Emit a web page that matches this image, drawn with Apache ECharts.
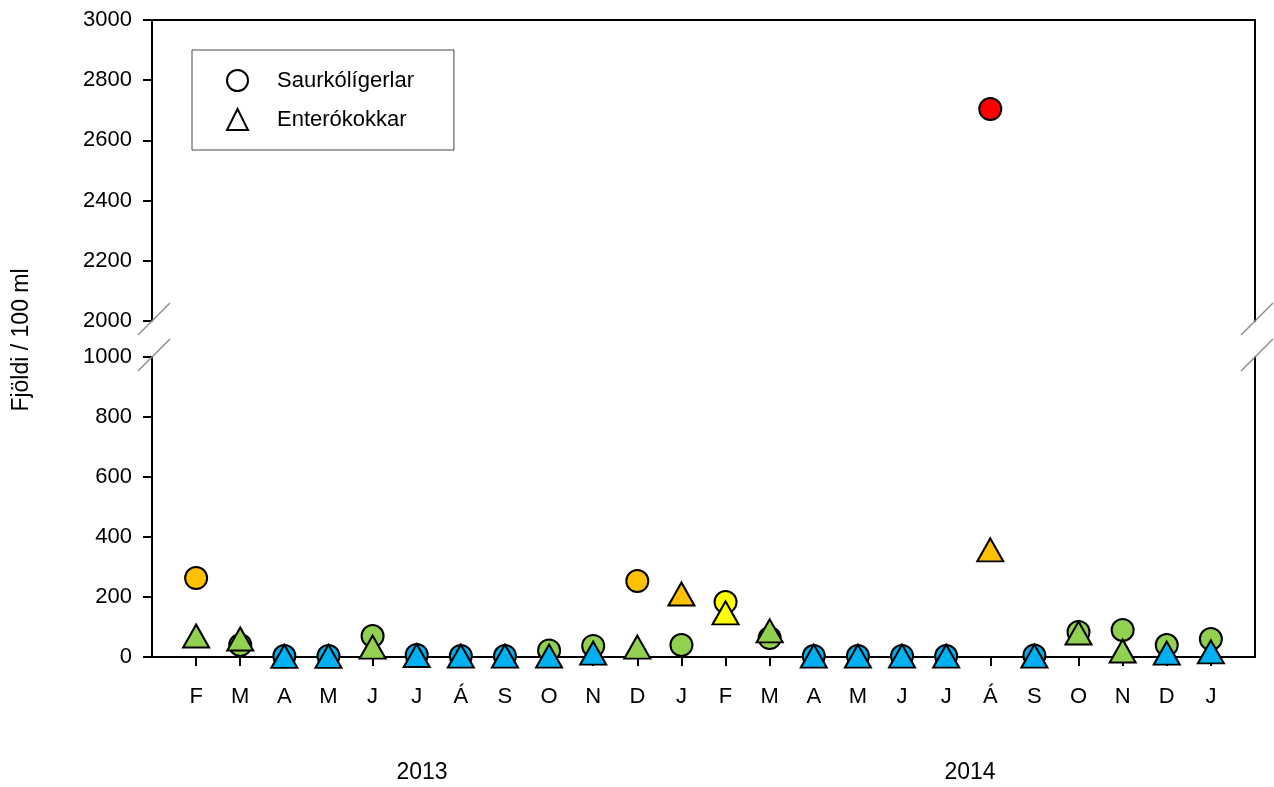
<!DOCTYPE html>
<html>
<head>
<meta charset="utf-8">
<script src="https://cdn.jsdelivr.net/npm/echarts@6/dist/echarts.min.js"></script>
<style>
  html, body { margin: 0; padding: 0; background: #fff; }
  #main { width: 1274px; height: 787px; }
</style>
</head>
<body>
<div id="main"></div>
<script>
// mánuðir feb 2013 - jan 2015
var months = ['F', 'M', 'A', 'M', 'J', 'J', 'Á', 'S', 'O', 'N', 'D', 'J', 'F', 'M', 'A', 'M', 'J', 'J', 'Á', 'S', 'O', 'N', 'D', 'J']
var years = ['2013', '2014']
var upperTicks = [2000, 3000, 200]
var lowerTicks = [0, 1000, 200]

// Saurkólígerlar (hringir)
var ecoliValues = [263, 40, 3, 3, 70, 7, 3, 3, 22, 37, 253, 40, 183, 63, 3, 3, 3, 3, 2704, 5, 83, 90, 40, 60]
var ecoliClass = ['o', 'g', 'b', 'b', 'g', 'b', 'b', 'b', 'g', 'g', 'o', 'g', 'y', 'g', 'b', 'b', 'b', 'b', 'r', 'b', 'g', 'g', 'g', 'g']
// Enterókokkar (þríhyrningar)
var enteroValues = [70, 60, 2, 2, 33, 5, 3, 3, 3, 13, 33, 210, 147, 87, 3, 3, 3, 3, 357, 3, 80, 20, 13, 17]
var enteroClass = ['g', 'g', 'b', 'b', 'g', 'b', 'b', 'b', 'b', 'b', 'g', 'o', 'y', 'g', 'b', 'b', 'b', 'b', 'o', 'b', 'g', 'g', 'b', 'b']

var palette = { b: '#00B0F0', g: '#92D050', y: '#FFFF00', o: '#FFC000', r: '#FF0000' }
var FONT = 'Liberation Sans'

// grid stærðir
var L = 152, R = 19, W = 1274 - L - R
var upTop = 20, upH = 301
var lowTop = 357, lowH = 300

var chart = echarts.init(document.getElementById('main'))

var cats = [''].concat(months, [''])

function pts (values, cls, test) {
  var out = []
  values.forEach(function (v, i) {
    if (test(v)) {
      out.push({ value: [i + 1, v], itemStyle: { color: palette[cls[i]] } })
    }
  })
  return out
}
var isLow = function (v) { return v <= 1000 }
var isHigh = function (v) { return v >= 2000 }

var lineStyle = { color: '#000', width: 2 }
var labelStyle = { color: '#000', fontFamily: FONT, fontSize: 22 }

function valueAxis (gi, t) {
  return {
    type: 'value', gridIndex: gi, min: t[0], max: t[1], interval: t[2],
    axisLine: { show: true, onZero: false, lineStyle: lineStyle },
    axisTick: { show: true, inside: false, length: 9, lineStyle: lineStyle },
    axisLabel: Object.assign({ margin: 20, formatter: function (v) { return String(v) } }, labelStyle),
    splitLine: { show: false }
  }
}
function borderAxis (gi, t) {
  return {
    type: 'value', gridIndex: gi, min: t[0], max: t[1], position: 'right',
    axisLine: { show: true, onZero: false, lineStyle: lineStyle },
    axisTick: { show: false }, axisLabel: { show: false }, splitLine: { show: false }
  }
}

var markerStyle = { borderColor: '#000', borderWidth: 2, opacity: 1 }

// brotlínur á ásnum
function breakLine (x, y) {
  return {
    type: 'line', z: 100,
    shape: { x1: x - 14, y1: y + 14, x2: x + 18, y2: y - 18 },
    style: { stroke: '#8c8c8c', lineWidth: 1.5 }
  }
}

var legendIcon = { color: '#fff', borderColor: '#000', borderWidth: 2 }

var option = {
  backgroundColor: '#fff',
  animation: false,
  grid: [
    { left: L, top: upTop, width: W, height: upH },
    { left: L, top: lowTop, width: W, height: lowH }
  ],
  xAxis: [
    {
      type: 'category', gridIndex: 0, data: cats, boundaryGap: false, position: 'top',
      axisLine: { show: true, onZero: false, lineStyle: lineStyle },
      axisTick: { show: false }, axisLabel: { show: false }, splitLine: { show: false }
    },
    {
      type: 'category', gridIndex: 1, data: cats, boundaryGap: false,
      axisLine: { show: true, onZero: false, lineStyle: lineStyle },
      axisTick: {
        show: true, length: 9, lineStyle: lineStyle,
        interval: function (i) { return i > 0 && i < cats.length - 1 }
      },
      axisLabel: Object.assign({ interval: 0, margin: 29 }, labelStyle),
      splitLine: { show: false }
    }
  ],
  yAxis: [
    valueAxis(0, upperTicks),
    valueAxis(1, lowerTicks),
    borderAxis(0, upperTicks),
    borderAxis(1, lowerTicks)
  ],
  legend: {
    left: 192, top: 50, orient: 'vertical',
    padding: [19, 40, 19, 34],
    itemWidth: 21, itemHeight: 21, itemGap: 16,
    borderColor: '#444', borderWidth: 1, backgroundColor: '#fff',
    textStyle: { color: '#000', fontFamily: FONT, fontSize: 22, padding: [0, 0, 0, 24] },
    data: [
      { name: 'Saurkólígerlar', icon: 'circle', itemStyle: legendIcon },
      { name: 'Enterókokkar', icon: 'triangle', itemStyle: legendIcon }
    ]
  },
  series: [
    {
      name: 'Saurkólígerlar', type: 'scatter', xAxisIndex: 1, yAxisIndex: 1,
      symbol: 'circle', symbolSize: 22, itemStyle: markerStyle, z: 2,
      data: pts(ecoliValues, ecoliClass, isLow)
    },
    {
      name: 'Saurkólígerlar', type: 'scatter', xAxisIndex: 0, yAxisIndex: 0,
      symbol: 'circle', symbolSize: 22, itemStyle: markerStyle, z: 2,
      data: pts(ecoliValues, ecoliClass, isHigh)
    },
    {
      name: 'Enterókokkar', type: 'scatter', xAxisIndex: 1, yAxisIndex: 1,
      symbol: 'triangle', symbolSize: [26, 23], itemStyle: markerStyle, z: 3,
      data: pts(enteroValues, enteroClass, isLow)
    }
  ],
  graphic: [
    breakLine(L, upTop + upH),
    breakLine(L, lowTop),
    breakLine(L + W, upTop + upH),
    breakLine(L + W, lowTop),
    {
      type: 'text', x: 22, y: 340, rotation: Math.PI / 2,
      style: { text: 'Fjöldi / 100 ml', fill: '#000', font: '23px "' + FONT + '"', align: 'center', verticalAlign: 'middle' }
    },
    {
      type: 'text', x: 422, y: 773,
      style: { text: years[0], fill: '#000', font: '23px "' + FONT + '"', align: 'center', verticalAlign: 'middle' }
    },
    {
      type: 'text', x: 970, y: 773,
      style: { text: years[1], fill: '#000', font: '23px "' + FONT + '"', align: 'center', verticalAlign: 'middle' }
    }
  ]
}

chart.setOption(option)
</script>
</body>
</html>
